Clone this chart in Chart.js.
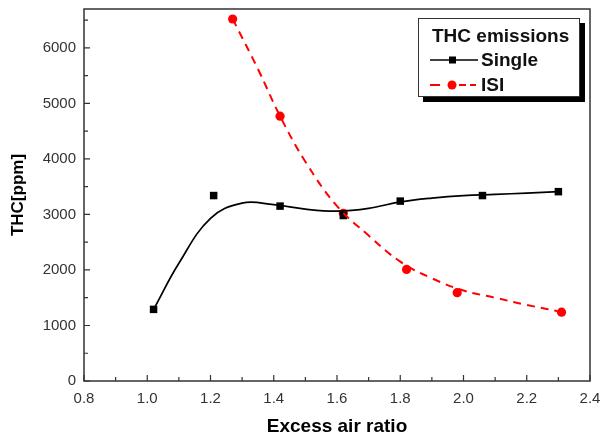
<!DOCTYPE html>
<html lang="en">
  <head>
    <meta charset="UTF-8" />
    <title>THC emissions vs excess air ratio</title>
    <style>
      body {
        margin: 0;
        padding: 0;
        background-color: #fff;
        font-family: Arial, "Liberation Sans", sans-serif;
      }

      #wrap {
        position: relative;
        width: 602px;
        height: 436px;
      }

      #legend {
        position: absolute;
        left: 418px;
        top: 18px;
        width: 160px;
        height: 77px;
        border: 1px solid #333;
        background-color: #fff;
        box-shadow: 5px 5px 0 #000;
        font-weight: bold;
        font-size: 19px;
        line-height: 22px;
        color: #111;
      }

      #legend .row {
        position: absolute;
        white-space: nowrap;
      }

      #legend svg {
        position: absolute;
        left: 11px;
        top: 5px;
      }
    </style>
  </head>
  <body>
    <div id="wrap">
      <canvas id="chart" width="602" height="436"></canvas>
      <div id="legend">
        <div class="row" style="left: 13px; top: 6px">THC emissions</div>
        <div class="row" style="left: 0; top: 30px; width: 160px; height: 22px">
          <svg width="48" height="12">
            <line x1="0" y1="6" x2="48" y2="6" stroke="#000" stroke-width="1.5" />
            <rect x="19" y="2.5" width="7" height="7" fill="#000" />
          </svg>
          <span style="position: absolute; left: 62px">Single</span>
        </div>
        <div class="row" style="left: 0; top: 55px; width: 160px; height: 22px">
          <svg width="48" height="12">
            <line x1="0" y1="6" x2="10" y2="6" stroke="#ff0000" stroke-width="2" />
            <circle cx="22" cy="6" r="4.5" fill="#ff0000" />
            <line x1="29" y1="6" x2="46" y2="6" stroke="#ff0000" stroke-width="2" stroke-dasharray="7,4" />
          </svg>
          <span style="position: absolute; left: 62px">ISI</span>
        </div>
      </div>
    </div>

    <script src="https://cdn.jsdelivr.net/npm/chart.js"></script>
    <script>
      // measured points
      var singleX = [1.02, 1.21, 1.42, 1.62, 1.8, 2.06, 2.3];
      var singleY = [1290, 3340, 3150, 2980, 3240, 3340, 3410];
      var isiX = [1.27, 1.42, 1.62, 1.82, 1.98, 2.31];
      var isiY = [6520, 4770, 3020, 2010, 1590, 1240];

      // fitted curves
      var singleFitX = [1.02, 1.1, 1.2, 1.3, 1.4, 1.5, 1.6, 1.7, 1.8, 1.9, 2.0, 2.1, 2.2, 2.3];
      var singleFitY = [1290, 2120, 2930, 3205, 3175, 3095, 3060, 3110, 3225, 3295, 3340, 3360, 3385, 3410];
      var isiFitX = [1.27, 1.35, 1.42, 1.5, 1.6, 1.7, 1.8, 1.9, 2.0, 2.1, 2.2, 2.31];
      var isiFitY = [6520, 5620, 4770, 3950, 3150, 2620, 2150, 1850, 1630, 1500, 1370, 1245];

      // axis ticks (labels only on every other one)
      var xTicks = [0.8, 0.9, 1.0, 1.1, 1.2, 1.3, 1.4, 1.5, 1.6, 1.7, 1.8, 1.9, 2.0, 2.1, 2.2, 2.3, 2.4];
      var yTicks = [0, 500, 1000, 1500, 2000, 2500, 3000, 3500, 4000, 4500, 5000, 5500, 6000, 6500];

      function toPoints(xs, ys) {
        var pts = [];
        for (var i = 0; i < xs.length; i++) {
          pts.push({ x: xs[i], y: ys[i] });
        }
        return pts;
      }

      // frame around the plot and inward ticks
      var frameTicks = {
        id: "frameTicks",
        afterDraw: function (chart) {
          var ctx = chart.ctx;
          var a = chart.chartArea;
          var xs = chart.scales.x;
          var ys = chart.scales.y;
          ctx.save();
          ctx.strokeStyle = "#333";
          ctx.lineWidth = 1.5;
          ctx.strokeRect(a.left, a.top, a.right - a.left, a.bottom - a.top);
          ctx.lineWidth = 1.2;
          ctx.beginPath();
          xs.ticks.forEach(function (t, i) {
            var px = xs.getPixelForValue(t.value);
            ctx.moveTo(px, a.bottom);
            ctx.lineTo(px, a.bottom - (i % 2 === 0 ? 6 : 4));
          });
          ys.ticks.forEach(function (t, i) {
            var py = ys.getPixelForValue(t.value);
            ctx.moveTo(a.left, py);
            ctx.lineTo(a.left + (i % 2 === 0 ? 6 : 4), py);
          });
          ctx.stroke();
          ctx.restore();
        },
      };

      var tickFont = { family: "Arial, 'Liberation Sans', sans-serif", size: 15 };
      var titleFont = { family: "Arial, 'Liberation Sans', sans-serif", size: 19, weight: "bold" };

      new Chart(document.getElementById("chart"), {
        type: "scatter",
        data: {
          datasets: [
            {
              label: "Single fit",
              data: toPoints(singleFitX, singleFitY),
              showLine: true,
              borderColor: "#000",
              borderWidth: 1.7,
              pointRadius: 0,
              tension: 0.4,
            },
            {
              label: "ISI fit",
              data: toPoints(isiFitX, isiFitY),
              showLine: true,
              borderColor: "#ff0000",
              borderWidth: 2,
              borderDash: [8, 6],
              pointRadius: 0,
              tension: 0.4,
            },
            {
              label: "Single",
              data: toPoints(singleX, singleY),
              pointStyle: "rect",
              pointRadius: 5.3,
              backgroundColor: "#000",
              borderColor: "#000",
              borderWidth: 0,
            },
            {
              label: "ISI",
              data: toPoints(isiX, isiY),
              pointStyle: "circle",
              pointRadius: 4.6,
              backgroundColor: "#ff0000",
              borderColor: "#ff0000",
              borderWidth: 0,
            },
          ],
        },
        options: {
          responsive: false,
          animation: false,
          layout: { padding: { top: 9, right: 12, left: 0, bottom: 0 } },
          plugins: {
            legend: { display: false },
            tooltip: { enabled: false },
          },
          scales: {
            x: {
              type: "linear",
              min: 0.8,
              max: 2.4,
              grid: { display: false },
              border: { display: false },
              afterBuildTicks: function (scale) {
                scale.ticks = xTicks.map(function (v) {
                  return { value: v };
                });
              },
              ticks: {
                padding: 1,
                color: "#333",
                font: tickFont,
                maxRotation: 0,
                autoSkip: false,
                callback: function (v, i) {
                  return i % 2 === 0 ? v.toFixed(1) : "";
                },
              },
              title: {
                display: true,
                text: "Excess air ratio",
                color: "#000",
                font: titleFont,
                padding: { top: 0, bottom: -2 },
              },
              afterFit: function (scale) {
                scale.height = 55;
                scale.paddingLeft = 0;
                scale.paddingRight = 0;
              },
            },
            y: {
              min: 0,
              max: 6700,
              grid: { display: false },
              border: { display: false },
              afterBuildTicks: function (scale) {
                scale.ticks = yTicks.map(function (v) {
                  return { value: v };
                });
              },
              ticks: {
                padding: 0,
                color: "#333",
                font: tickFont,
                autoSkip: false,
                callback: function (v, i) {
                  return i % 2 === 0 ? String(v) : "";
                },
              },
              title: {
                display: true,
                text: "THC[ppm]",
                color: "#000",
                font: { family: "Arial, 'Liberation Sans', sans-serif", size: 17, weight: "bold" },
                padding: { top: 8, bottom: 0 },
              },
              afterFit: function (scale) {
                scale.width = 84;
                scale.paddingTop = 0;
                scale.paddingBottom = 0;
              },
            },
          },
        },
        plugins: [frameTicks],
      });
    </script>
  </body>
</html>
